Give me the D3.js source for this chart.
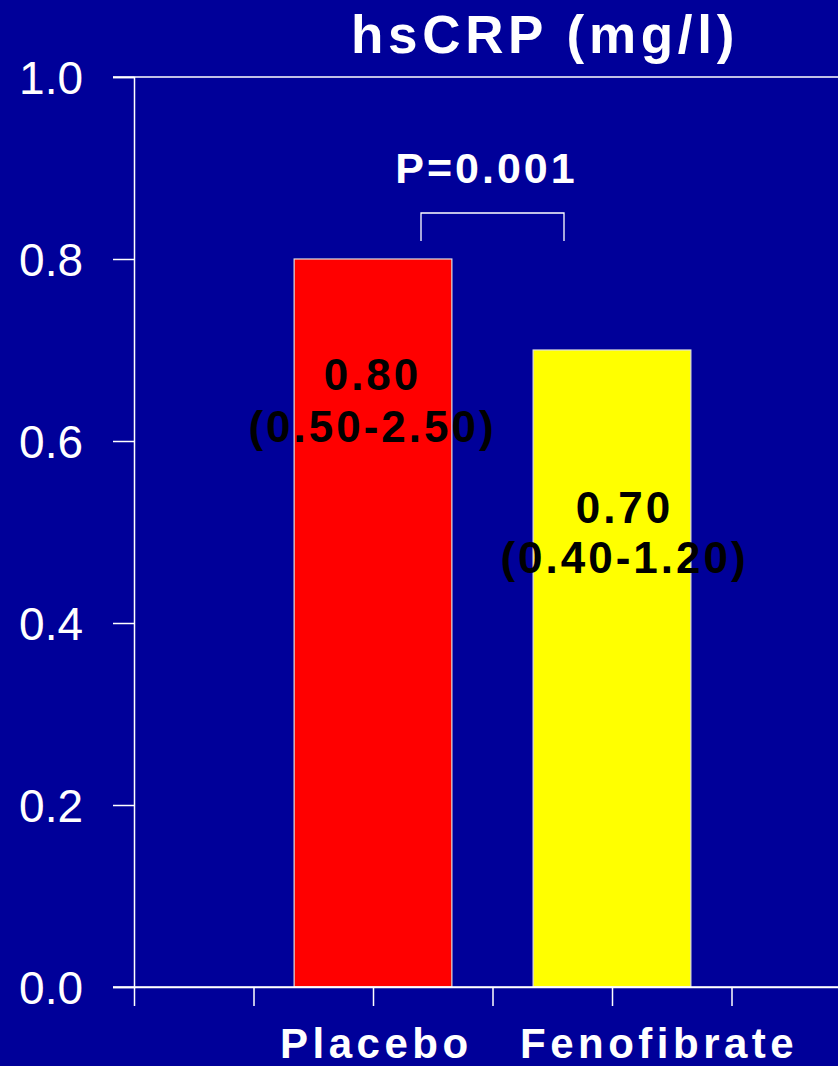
<!DOCTYPE html>
<html><head><meta charset="utf-8">
<script src="https://cdn.jsdelivr.net/npm/d3@7"></script>
<style>
html,body{margin:0;padding:0;background:#000099;}
svg{display:block;}
text{font-family:"Liberation Sans",Arial,sans-serif;}
</style></head>
<body>
<script>
const categories = ["Placebo", "Fenofibrate"];
const values = [0.80, 0.70];
const valueLabels = ["0.80", "0.70"];
const rangeLabels = ["(0.50-2.50)", "(0.40-1.20)"];
const barColors = ["#ff0000", "#ffff00"];
const yTicks = [0, 0.2, 0.4, 0.6, 0.8, 1.0];
const title = "hsCRP (mg/l)";
const pLabel = "P=0.001";

const W = 838, H = 1066;
const svg = d3.select("body").append("svg").attr("width", W).attr("height", H);
svg.append("rect").attr("width", W).attr("height", H).attr("fill", "#000099");

const y = d3.scaleLinear().domain([0, 1]).range([987, 77]);
// x axis positions in slot units; bars at slots 2 and 4
const x = d3.scaleLinear().domain([0, 6]).range([134, 851]);
const barPos = [2, 4];
const barW = x(1.32) - x(0);

// top frame line
svg.append("line").attr("x1", 113).attr("x2", W).attr("y1", y(1)).attr("y2", y(1))
  .attr("stroke", "#fff").attr("stroke-width", 1.5);

// bars
svg.selectAll("rect.bar").data(values).enter().append("rect")
  .attr("class", "bar")
  .attr("x", (d, i) => x(barPos[i]) - barW / 2)
  .attr("width", barW)
  .attr("y", d => y(d))
  .attr("height", d => y(0) - y(d))
  .attr("fill", (d, i) => barColors[i])
  .attr("stroke", "#e0e0e0").attr("stroke-width", 1.2);

// y axis
const yAxis = d3.axisLeft(y).tickValues(yTicks).tickFormat(d3.format(".1f")).tickSize(21).tickPadding(30);
const gy = svg.append("g").attr("transform", `translate(${x(0)},0)`).call(yAxis);
gy.select(".domain").attr("stroke", "#fff").attr("stroke-width", 1.5);
gy.selectAll(".tick line").attr("stroke", "#fff").attr("stroke-width", 1.5);
gy.selectAll(".tick text").attr("fill", "#fff").attr("font-size", 46).attr("dy", "0.36em")
  .attr("font-family", "Liberation Sans, Arial, sans-serif");

// x axis
const xAxis = d3.axisBottom(x).tickValues([0, 1, 2, 3, 4, 5]).tickFormat("").tickSize(19).tickSizeOuter(0);
const gx = svg.append("g").attr("transform", `translate(0,${y(0)})`).call(xAxis);
gx.select(".domain").attr("stroke", "#fff").attr("stroke-width", 1.5);
gx.selectAll(".tick line").attr("stroke", "#fff").attr("stroke-width", 1.5);
svg.append("line").attr("x1", 113).attr("x2", W).attr("y1", y(0)).attr("y2", y(0))
  .attr("stroke", "#fff").attr("stroke-width", 1.5);

// category labels
svg.append("text").attr("x", 280).attr("y", 1058).attr("text-anchor", "start")
  .attr("fill", "#fff").attr("font-weight", "bold").attr("font-size", 42).attr("letter-spacing", 4.5)
  .text(categories[0]);
svg.append("text").attr("x", 520).attr("y", 1058).attr("text-anchor", "start")
  .attr("fill", "#fff").attr("font-weight", "bold").attr("font-size", 42).attr("letter-spacing", 4.5)
  .text(categories[1]);

// value labels
const labelOff = [[-2, 131, 183], [11, 173, 223]];
values.forEach((v, i) => {
  const cx = x(barPos[i]) + labelOff[i][0] + 1.5;
  svg.append("text").attr("x", cx).attr("y", y(v) + labelOff[i][1]).attr("text-anchor", "middle")
    .attr("fill", "#000").attr("font-weight", "bold").attr("font-size", 44).attr("letter-spacing", 3)
    .text(valueLabels[i]);
  svg.append("text").attr("x", cx).attr("y", y(v) + labelOff[i][2]).attr("text-anchor", "middle")
    .attr("fill", "#000").attr("font-weight", "bold").attr("font-size", 44).attr("letter-spacing", 3)
    .text(rangeLabels[i]);
});

// title
svg.append("text").attr("x", 545).attr("y", 53).attr("text-anchor", "middle")
  .attr("fill", "#fff").attr("font-weight", "bold").attr("font-size", 53).attr("letter-spacing", 4.7)
  .text(title);

// significance bracket
const bx1 = 421, bx2 = 564, byTop = 213, byBot = 241;
svg.append("path").attr("d", `M${bx1},${byBot}V${byTop}H${bx2}V${byBot}`)
  .attr("fill", "none").attr("stroke", "#fff").attr("stroke-width", 1.3);
svg.append("text").attr("x", 486.5).attr("y", 183).attr("text-anchor", "middle")
  .attr("fill", "#fff").attr("font-weight", "bold").attr("font-size", 43).attr("letter-spacing", 3)
  .text(pLabel);
</script>
</body></html>
